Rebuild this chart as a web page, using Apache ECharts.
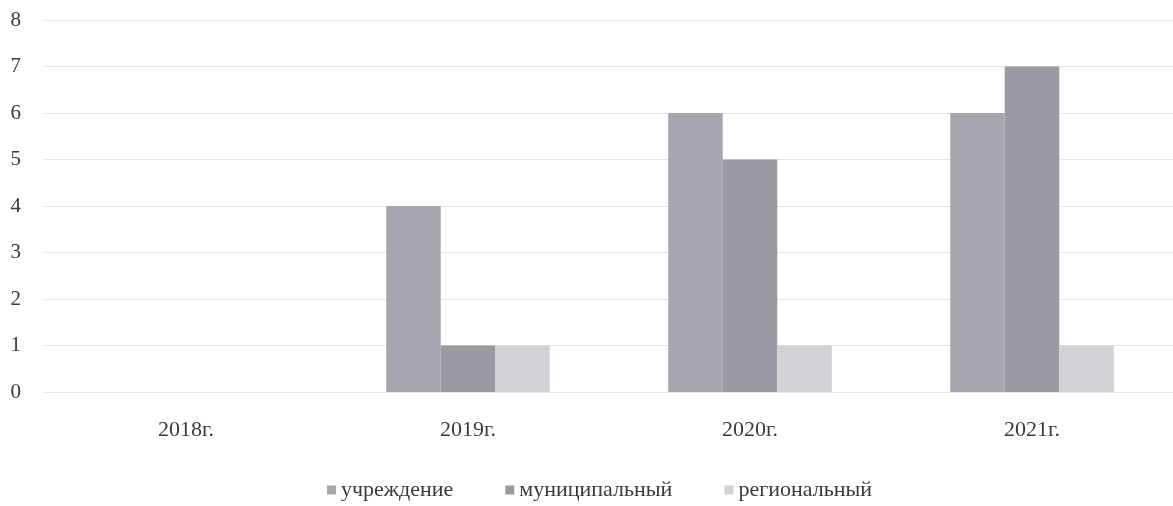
<!DOCTYPE html>
<html><head><meta charset="utf-8">
<script src="https://cdn.jsdelivr.net/npm/echarts@6/dist/echarts.min.js"></script>
<style>html,body{margin:0;padding:0;background:#fff}#c{width:1173px;height:506px}</style>
</head><body><div id="c"></div>
<script>
const categories = ['2018г.', '2019г.', '2020г.', '2021г.'];
const seriesNames = ['учреждение', 'муниципальный', 'региональный'];
const uchrezhdenie = [0, 4, 6, 6];
const municipalny = [0, 1, 5, 7];
const regionalny = [0, 1, 1, 1];
const yTicks = [0, 1, 2, 3, 4, 5, 6, 7, 8];

const font = 'Liberation Serif';
const colors = ['#a6a6ae', '#9a9aa2', '#d2d2d6'];
const chart = echarts.init(document.getElementById('c'));
chart.setOption({
  animation: false,
  color: colors,
  grid: { left: 45, top: 20, width: 1132, height: 372 },
  legend: {
    bottom: 0, left: 322, itemWidth: 9, itemHeight: 9, itemGap: 52,
    icon: 'rect',
    textStyle: { fontFamily: font, fontSize: 22, color: '#3a3a3a' },
    data: seriesNames
  },
  xAxis: {
    type: 'category', data: categories,
    axisLine: { show: false }, axisTick: { show: false },
    axisLabel: { fontFamily: font, fontSize: 22, color: '#3a3a3a', margin: 27 }
  },
  yAxis: {
    type: 'value', min: yTicks[0], max: yTicks[yTicks.length - 1], interval: 1,
    axisLine: { show: false }, axisTick: { show: false },
    axisLabel: { fontFamily: font, fontSize: 21, color: '#3a3a3a', margin: 24 },
    splitLine: { lineStyle: { color: '#e4e4e4', width: 1 } }
  },
  series: [
    { name: seriesNames[0], type: 'bar', data: uchrezhdenie, barGap: '0%', barCategoryGap: '42%' },
    { name: seriesNames[1], type: 'bar', data: municipalny, barGap: '0%', barCategoryGap: '42%' },
    { name: seriesNames[2], type: 'bar', data: regionalny, barGap: '0%', barCategoryGap: '42%' }
  ]
});
</script></body></html>
